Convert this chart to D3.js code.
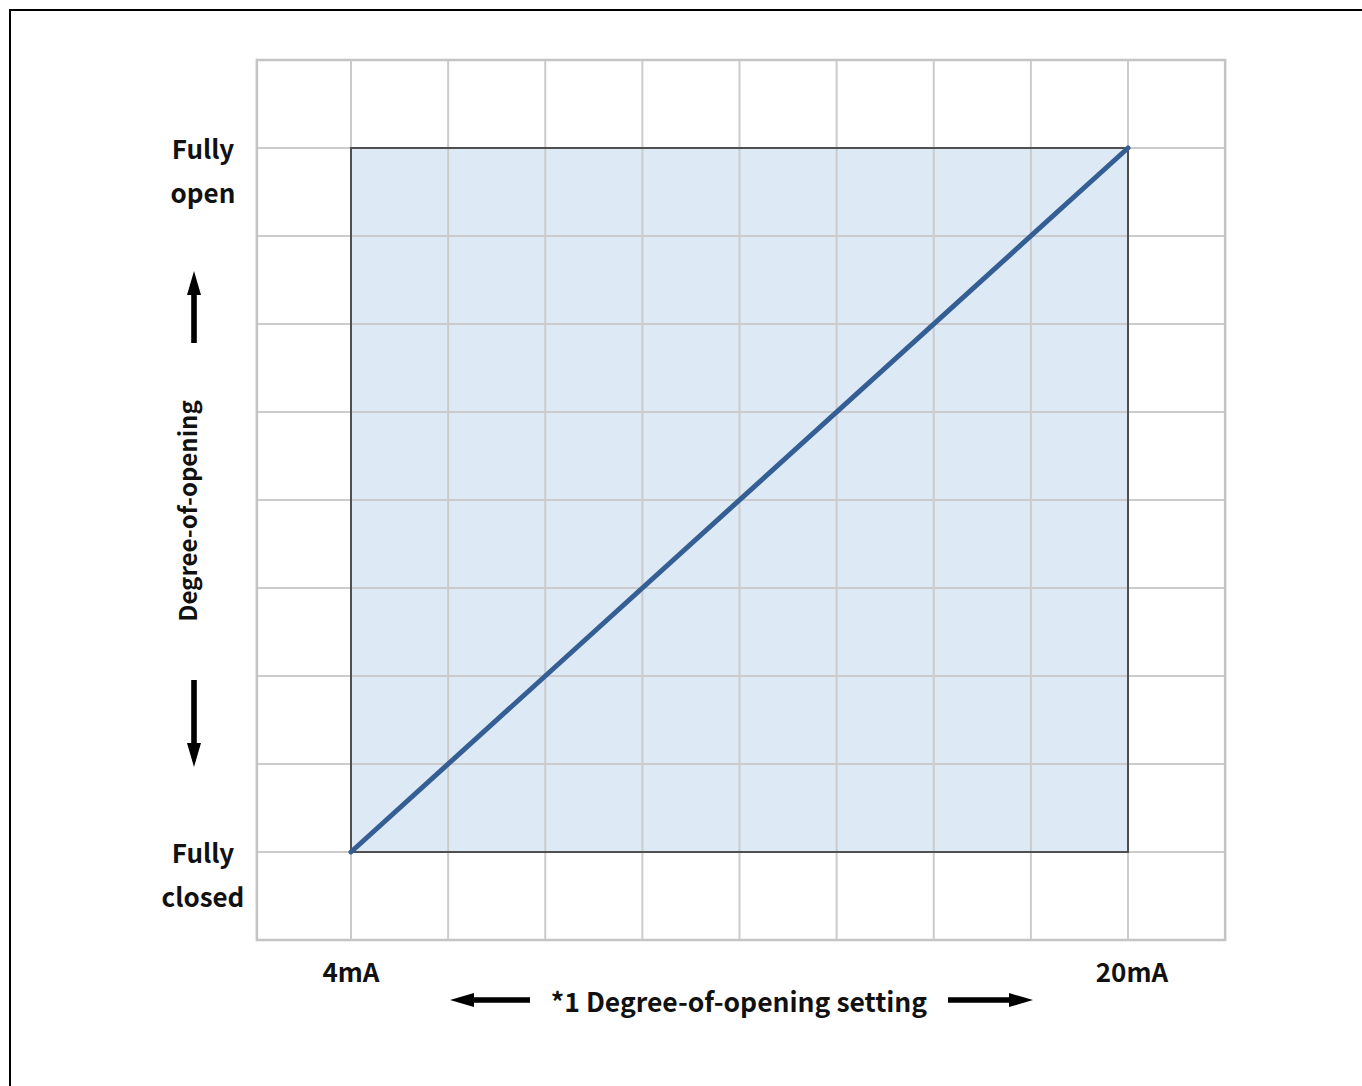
<!DOCTYPE html>
<html><head><meta charset="utf-8">
<script src="https://cdn.jsdelivr.net/npm/d3@7"></script>
<style>html,body{margin:0;padding:0;background:#fff;} svg{display:block;}</style>
</head><body>
<svg id="chart" width="1362" height="1086"></svg>
<script>
// ---- data ----
const currents = [4, 20];            // mA
const opening = [0, 100];            // % degree-of-opening
const xTickValues = [4, 20];
const xTickLabels = ["4mA", "20mA"];
const yTickValues = [100, 0];
const yTickLabels = [["Fully", "open"], ["Fully", "closed"]];
const xGridValues = [2, 4, 6, 8, 10, 12, 14, 16, 18, 20, 22];
const yGridValues = [-12.5, 0, 12.5, 25, 37.5, 50, 62.5, 75, 87.5, 100, 112.5];
const xTitle = "*1 Degree-of-opening setting";
const yTitle = "Degree-of-opening";

const svg = d3.select("#chart");
const font = "'Noto Sans CJK JP', 'Noto Sans', sans-serif";

svg.append("rect").attr("x", 10).attr("y", 10).attr("width", 1362).attr("height", 1090)
  .attr("fill", "none").attr("stroke", "#000").attr("stroke-width", 2);

const x = d3.scaleLinear().domain([4, 20]).range([351, 1128]);
const y = d3.scaleLinear().domain([0, 100]).range([852, 148]);

const gx0 = x(2) + 3, gx1 = x(22), gy0 = y(112.5), gy1 = y(-12.5);

// shaded region fill
const rx = x(currents[0]), ry = y(opening[1]);
const rw = x(currents[1]) - x(currents[0]), rh = y(opening[0]) - y(opening[1]);
svg.append("rect").attr("x", rx).attr("y", ry).attr("width", rw).attr("height", rh)
  .attr("fill", "#dde9f5");

// grid
const g = svg.append("g");
g.selectAll(".vx").data(xGridValues).join("line")
  .attr("x1", (d, i) => i === 0 ? gx0 : x(d)).attr("x2", (d, i) => i === 0 ? gx0 : x(d))
  .attr("y1", gy0).attr("y2", gy1)
  .attr("stroke", "#cbcbcb").attr("stroke-width", 2);
g.selectAll(".hy").data(yGridValues).join("line")
  .attr("x1", gx0).attr("x2", gx1)
  .attr("y1", d => y(d)).attr("y2", d => y(d))
  .attr("stroke", "#cbcbcb").attr("stroke-width", 2);
g.append("rect").attr("x", gx0).attr("y", gy0).attr("width", gx1 - gx0).attr("height", gy1 - gy0)
  .attr("fill", "none").attr("stroke", "#c4c4c4").attr("stroke-width", 2.5);

// shaded region border
svg.append("rect").attr("x", rx).attr("y", ry).attr("width", rw).attr("height", rh)
  .attr("fill", "none").attr("stroke", "#4f4f4f").attr("stroke-width", 2);

// line
const pts = currents.map((c, i) => [c, opening[i]]);
svg.append("path").datum(pts)
  .attr("d", d3.line().x(d => x(d[0])).y(d => y(d[1])))
  .attr("fill", "none").attr("stroke", "#355f94").attr("stroke-width", 5)
  .attr("stroke-linecap", "round");

// x tick labels
svg.selectAll(".xt").data(xTickValues).join("text")
  .attr("x", (d) => x(d) + (d === 20 ? 4 : 0)).attr("y", 982)
  .attr("text-anchor", "middle").attr("font-family", font).attr("font-weight", "bold")
  .attr("font-size", 26).attr("fill", "#111")
  .text((d, i) => xTickLabels[i]);

// y tick labels
yTickValues.forEach((v, i) => {
  const t = svg.append("text").attr("text-anchor", "middle").attr("font-family", font)
    .attr("font-weight", "bold").attr("font-size", 26).attr("fill", "#111");
  yTickLabels[i].forEach((s, j) => {
    t.append("tspan").attr("x", 203).attr("y", y(v) + 11 + j * 44).text(s);
  });
});

// arrows helper: from (x1,y1) with tip at (x2,y2)
function arrow(x1, y1, x2, y2) {
  const dx = x2 - x1, dy = y2 - y1, L = Math.hypot(dx, dy);
  const ux = dx / L, uy = dy / L, px = -uy, py = ux;
  const hl = 24, hw = 7, sw = 2.8;
  const bx = x2 - ux * hl, by = y2 - uy * hl;
  const p = [
    [x1 + px * sw, y1 + py * sw], [bx + px * sw, by + py * sw], [bx + px * hw, by + py * hw],
    [x2, y2], [bx - px * hw, by - py * hw], [bx - px * sw, by - py * sw], [x1 - px * sw, y1 - py * sw]
  ];
  svg.append("path").attr("d", "M" + p.map(q => q.join(",")).join("L") + "Z").attr("fill", "#000");
}

// x title
svg.append("text").attr("x", 739).attr("y", 1012).attr("text-anchor", "middle")
  .attr("font-family", font).attr("font-weight", "bold").attr("font-size", 26.5).attr("fill", "#111")
  .text(xTitle);
arrow(530, 1000, 450, 1000);
arrow(948, 1000, 1033, 1000);

// y title
svg.append("text").attr("transform", "translate(197,511) rotate(-90)").attr("text-anchor", "middle")
  .attr("font-family", font).attr("font-weight", "bold").attr("font-size", 24).attr("fill", "#111")
  .text(yTitle);
arrow(194, 343, 194, 271);
arrow(194, 680, 194, 767);
</script>
</body></html>
